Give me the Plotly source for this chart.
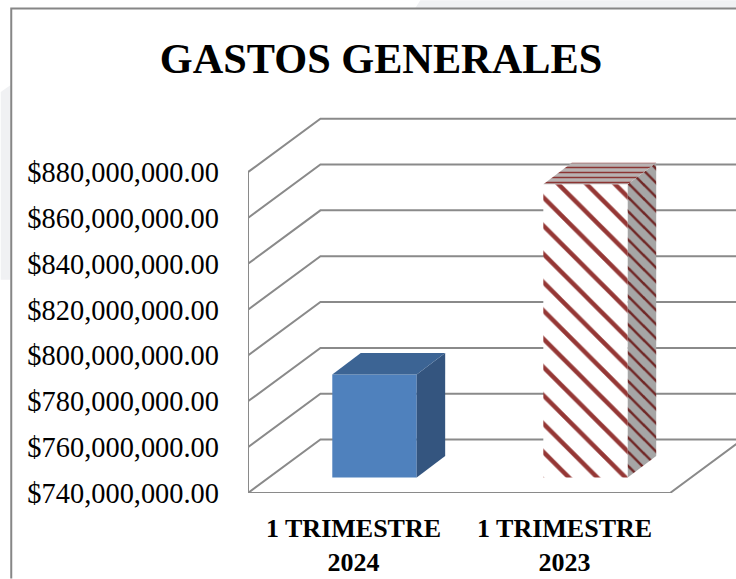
import plotly.graph_objects as go

# ---- data ----
categories = ["1 TRIMESTRE<br>2024", "1 TRIMESTRE<br>2023"]
gastos = [785e6, 868e6]
tick_values = [740e6, 760e6, 780e6, 800e6, 820e6, 840e6, 860e6, 880e6]
title_text = "GASTOS GENERALES"

# ---- layout geometry ----
W, H = 736, 579
L, R_PX, T, B = 247.5, 736, 100, 493.5   # plot area in pixels
CAT_PX = 211.25                           # pixels per category
VAL_PX = 45.9 / 20e6                      # pixels per unit of value
DEPTH_X, DEPTH_Y = 72.5, 53.5             # oblique offset of the back wall
BAR_FRONT_X, BAR_FRONT_Y = 21.0, 15.5     # front face of the bars
BAR_DEPTH_X, BAR_DEPTH_Y = 28.5, 21.5     # depth of the bars
BAR_W = 84.5 / CAT_PX

y0 = tick_values[0]
x0 = -0.5
xr = [x0, x0 + (R_PX - L) / CAT_PX]
yr = [y0, y0 + (B - T) / VAL_PX]
dx = lambda px: px / CAT_PX
dv = lambda px: px / VAL_PX
x_end = x0 + len(categories)

GRID = "#8a8a8a"
FONT = "Liberation Serif"
fig = go.Figure()
px_x = lambda p: (p - L) / (R_PX - L)
px_y = lambda p: (B - p) / (B - T)


def wall_line(xs, ys, width=2.0):
    path = "M " + " L ".join(f"{a} {b}" for a, b in zip(xs, ys))
    return dict(type="path", xref="x", yref="y", layer="below", path=path,
                line=dict(color=GRID, width=width))


shapes = [
    dict(type="path", xref="paper", yref="paper", layer="below", line=dict(width=0), fillcolor="#f0f1f3",
         path=f"M {px_x(0)} {px_y(92)} L {px_x(10)} {px_y(85)} L {px_x(10)} {px_y(280)} L {px_x(0)} {px_y(280)} Z"),
    dict(type="path", xref="paper", yref="paper", layer="below", line=dict(width=0), fillcolor="#f0f1f3",
         path=f"M {px_x(415)} {px_y(8)} L {px_x(420)} {px_y(0)} L {px_x(736)} {px_y(0)} L {px_x(736)} {px_y(8)} Z"),
    dict(type="path", xref="paper", yref="paper", layer="below", line=dict(color="#868686", width=2),
         path=f"M {px_x(736)} {px_y(8.5)} L {px_x(10.5)} {px_y(8.5)} L {px_x(10.5)} {px_y(579)}"),
]
# back wall and side wall grid lines, from the axis ticks
for v in tick_values:
    shapes.append(wall_line([x0, x0 + dx(DEPTH_X), x_end + dx(DEPTH_X)], [v, v + dv(DEPTH_Y), v + dv(DEPTH_Y)]))
# front edge of the wall and of the floor
shapes.append(wall_line([x0, x0, x_end, x_end + dx(DEPTH_X)], [tick_values[-1], y0, y0, y0 + dv(DEPTH_Y)]))


def polygon(xs, ys, color, pattern=None):
    kw = dict(fillpattern=pattern) if pattern else {}
    fig.add_trace(go.Scatter(x=xs, y=ys, mode="lines", fill="toself", fillcolor=color, showlegend=False,
                             hoverinfo="skip", line=dict(width=0, color=color), **kw))


def bar(i, value, face, side, top, face_pat=None, side_pat=None, top_pat=None):
    cx = i + dx(BAR_FRONT_X)
    base = y0 + dv(BAR_FRONT_Y)
    high = value + dv(BAR_FRONT_Y)
    xl, xh = cx - BAR_W / 2, cx + BAR_W / 2
    ox, oy = dx(BAR_DEPTH_X), dv(BAR_DEPTH_Y)
    polygon([xh, xh + ox, xh + ox, xh, xh], [base, base + oy, high + oy, high, base], side, side_pat)
    polygon([xl, xh, xh + ox, xl + ox, xl], [high, high, high + oy, high + oy, high], top, top_pat)
    marker = dict(color=face, line=dict(width=0))
    if face_pat:
        marker["pattern"] = face_pat
    fig.add_trace(go.Bar(x=[cx], y=[value - y0], base=[base], width=[BAR_W], marker=marker,
                         showlegend=False, hoverinfo="skip"))


bar(0, gastos[0], "#4f81bd", "#34557f", "#3c6494")
RED = "#953735"
bar(1, gastos[1], "#ffffff", "#a6a6a6", "#b0a8a8",
    face_pat=dict(shape="\\", fgcolor=RED, bgcolor="#ffffff", fgopacity=1, size=20, solidity=0.22),
    side_pat=dict(shape="\\", fgcolor="#702726", bgcolor="#a6a6a6", fgopacity=1, size=10, solidity=0.25),
    top_pat=dict(shape="-", fgcolor="#8c3533", bgcolor="#b8b2b2", fgopacity=1, size=5, solidity=0.3))

fig.update_layout(
    width=W, height=H, autosize=False,
    margin=dict(l=L, r=W - R_PX, t=T, b=H - B, pad=0),
    paper_bgcolor="#ffffff", plot_bgcolor="rgba(0,0,0,0)",
    barmode="overlay", showlegend=False, shapes=shapes,
    title=dict(text=f"<b>{title_text}</b>", x=381 / W, xanchor="center", y=1 - 58 / H, yanchor="middle",
               font=dict(family=FONT, size=42.3, color="#000000")),
    xaxis=dict(range=xr, tickmode="array", tickvals=list(range(len(categories))), ticktext=[
        "<br>".join(f"<b>{p}</b>" for p in c.split("<br>")) for c in categories],
        showgrid=False, zeroline=False, showline=False, ticks="", ticklabelstandoff=17,
        tickfont=dict(family=FONT, size=26, color="#000000")),
    yaxis=dict(range=yr, tickmode="array", tickvals=tick_values, tickformat="$,.2f",
               showgrid=False, zeroline=False, showline=False, ticks="", ticklabelstandoff=28,
               tickfont=dict(family=FONT, size=28.4, color="#000000")),
)
fig.write_html("out.html", config=dict(displayModeBar=False),
               post_script="document.body.style.margin='0';document.documentElement.style.overflow='hidden';")
